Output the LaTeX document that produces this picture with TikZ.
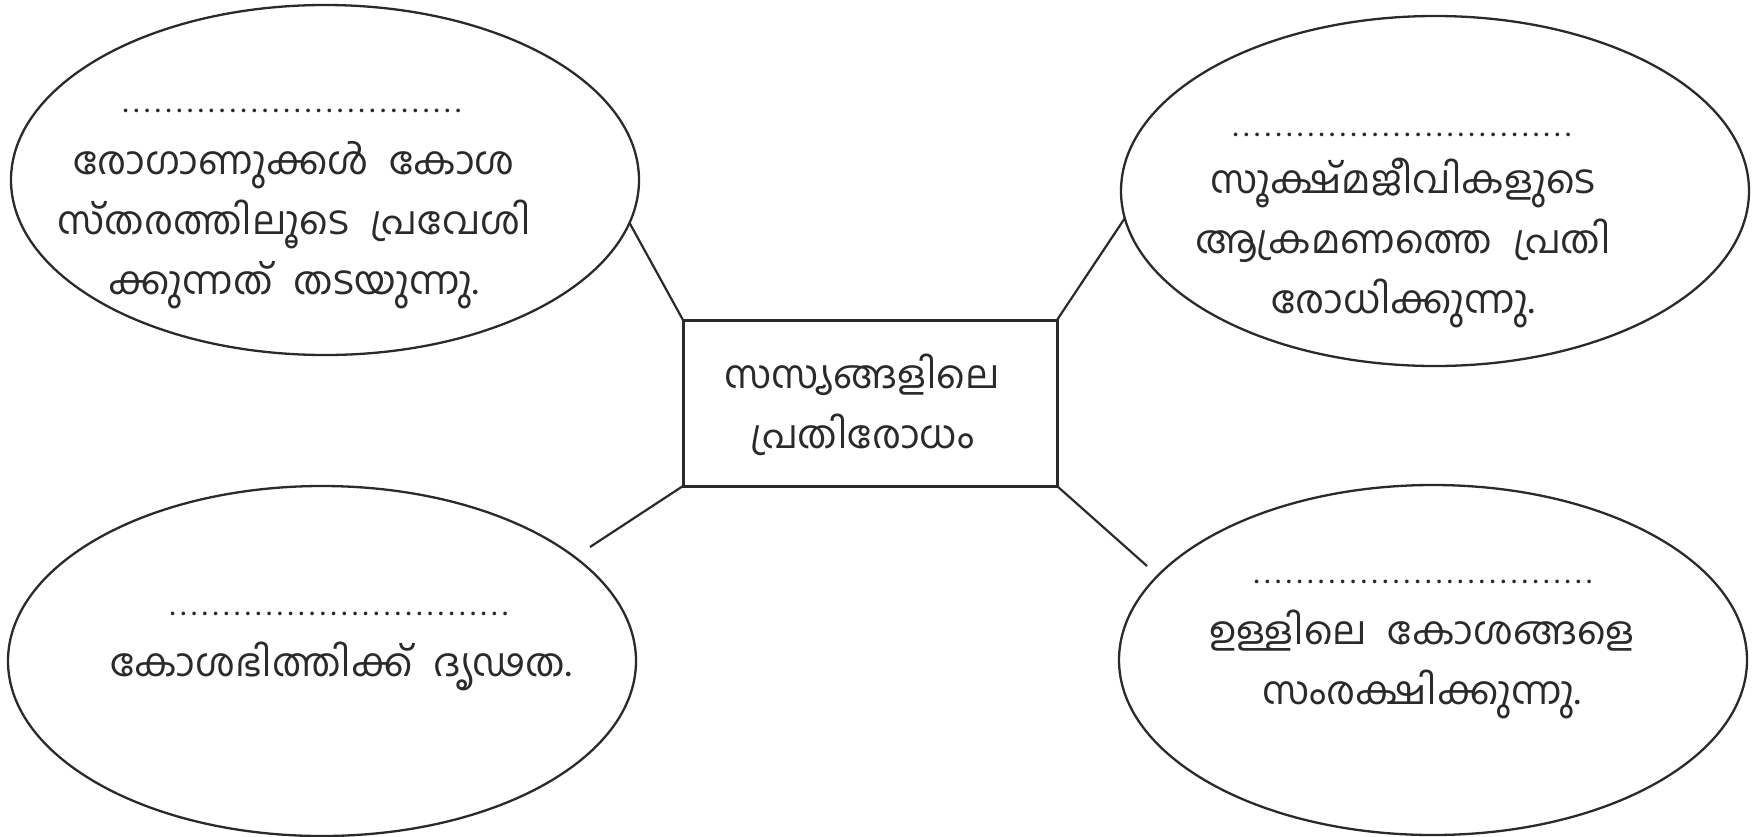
\documentclass[tikz,border=0pt]{standalone}
\usepackage{fontspec}
\newfontfamily\mal[Script=Malayalam,WordSpace=2.2]{Hind Kochi}
\newfontfamily\maldots[LetterSpace=18]{Hind Kochi}
\usetikzlibrary{shapes.geometric}
\definecolor{ink}{HTML}{2A2A2A}
\begin{document}
\begin{tikzpicture}[x=1pt,y=-1pt,
  bubble/.style={draw=ink,line width=2.3pt,ellipse,minimum width=628pt,minimum height=350pt,inner sep=0pt,outer sep=0pt},
  centerbox/.style={draw=ink,line width=3pt,rectangle,minimum width=374pt,minimum height=166pt,inner sep=0pt,outer sep=0pt},
  txt/.style={font=\mal\fontsize{39}{60}\selectfont,text=ink,align=center,inner sep=0pt},
  dots/.style={font=\maldots\fontsize{31}{31}\selectfont,text=ink,inner sep=0pt},
  link/.style={draw=ink,line width=2.2pt}]
\useasboundingbox (0,0) rectangle (1752,836);
\node[bubble] (tl) at (325,180) {};
\node[bubble] (tr) at (1435,191) {};
\node[bubble] (bl) at (322,661) {};
\node[bubble] (br) at (1433,660) {};
\node[centerbox] (c) at (870,403) {};

\node[dots] (tld) at (292,111) {................................};
\node[txt,anchor=north] (tlt) at (294,141) {രോഗാണുക്കൾ കോശ\\സ്തരത്തിലൂടെ പ്രവേശി\\ക്കുന്നത് തടയുന്നു.};

\node[dots] (trd) at (1402,135) {................................};
\node[txt,anchor=north] (trt) at (1403,158) {സൂക്ഷ്മജീവികളുടെ\\ആക്രമണത്തെ പ്രതി\\രോധിക്കുന്നു.};

\node[txt] (ct) at (862,405) {സസ്യങ്ങളിലെ\\പ്രതിരോധം};

\node[dots] (bld) at (339,614) {................................};
\node[txt] (blt) at (341,666) {കോശഭിത്തിക്ക് ദൃഢത.};

\node[dots] (brd) at (1423,582) {................................};
\node[txt,anchor=north] (brt) at (1422,610) {ഉള്ളിലെ കോശങ്ങളെ\\സംരക്ഷിക്കുന്നു.};

\coordinate (blend) at (590,547);
\coordinate (brend) at (1147,566);
\draw[link] (c.north west) -- (tl.-8.5);
\draw[link] (c.north east) -- (tr.185.95);
\draw[link] (c.south west) -- (blend);
\draw[link] (c.south east) -- (brend);
\end{tikzpicture}
\end{document}
